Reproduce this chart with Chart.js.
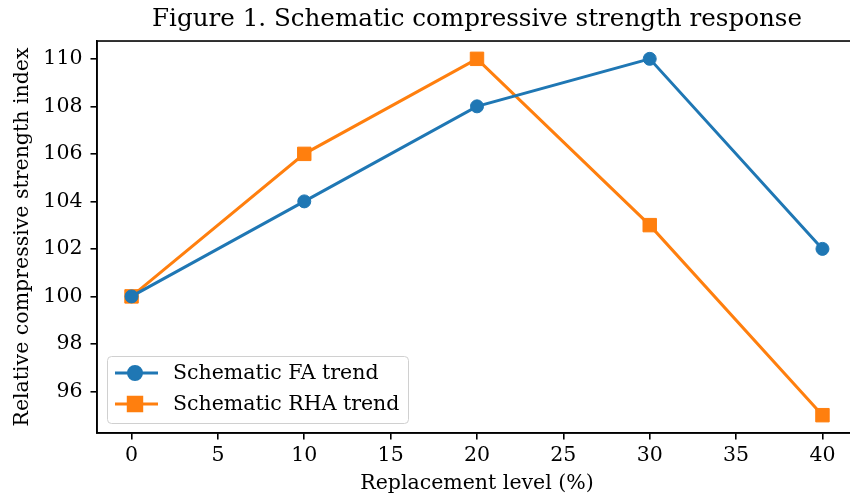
<!DOCTYPE html>
<html>
<head>
<meta charset="utf-8">
<script src="https://cdn.jsdelivr.net/npm/chart.js@4"></script>
<style>
  html, body { margin: 0; padding: 0; overflow: hidden; background: #fff; }
  #chart { display: block; }
</style>
</head>
<body>
<canvas id="chart" width="850" height="499" style="width:850px;height:499px"></canvas>
<script>
// Replacement levels (%) and the two schematic trends
const levels = [0, 10, 20, 30, 40];
const faTrend = [100, 104, 108, 110, 102];
const rhaTrend = [100, 106, 110, 103, 95];
const xTicks = [0, 5, 10, 15, 20, 25, 30, 35, 40];
const yTicks = [96, 98, 100, 102, 104, 106, 108, 110];

const FONT = '"DejaVu Serif", serif';
const BLUE = '#1f77b4';
const ORANGE = '#ff7f0e';

// the original figure is cut off on the right: push the plot area a few px past the canvas edge
const widen = {
  id: 'widen',
  afterLayout(chart) {
    const extra = 7;
    const a = chart.chartArea;
    a.right += extra;
    a.width += extra;
    const x = chart.scales.x;
    x.right += extra;
    x.width += extra;
    x.configure();
    if (chart.titleBlock) {
      chart.titleBlock.right += extra;
      chart.titleBlock.width += extra;
    }
  }
};

// box around the plot (matplotlib spines)
const frame = {
  id: 'frame',
  afterDraw(chart) {
    const { ctx, chartArea: a } = chart;
    ctx.save();
    ctx.strokeStyle = '#000';
    ctx.lineWidth = 1.6;
    ctx.strokeRect(a.left, a.top, a.right - a.left, a.bottom - a.top);
    ctx.restore();
  }
};

// legend drawn inside the lower left corner
const innerLegend = {
  id: 'innerLegend',
  afterDatasetsDraw(chart) {
    const { ctx, chartArea: a } = chart;
    const x0 = a.left + 10, y0 = a.bottom - 77, w = 301, h = 67;
    ctx.save();
    ctx.fillStyle = 'rgba(255,255,255,0.8)';
    ctx.strokeStyle = '#d0d0d0';
    ctx.lineWidth = 1;
    ctx.beginPath();
    ctx.roundRect(x0 + 0.5, y0 + 0.5, w, h, 4);
    ctx.fill();
    ctx.stroke();
    ctx.font = '20.5px ' + FONT;
    ctx.textBaseline = 'middle';
    chart.data.datasets.forEach((ds, i) => {
      const y = y0 + 17 + i * 31;
      ctx.strokeStyle = ds.borderColor;
      ctx.lineWidth = ds.borderWidth;
      ctx.beginPath();
      ctx.moveTo(x0 + 8, y);
      ctx.lineTo(x0 + 51, y);
      ctx.stroke();
      Chart.helpers.drawPoint(ctx, {
        pointStyle: ds.pointStyle, radius: ds.pointRadius, rotation: 0, borderWidth: 1
      }, x0 + 28, y);
      ctx.fillStyle = ds.backgroundColor;
      ctx.fill();
      ctx.fillStyle = '#000';
      ctx.fillText(ds.label, x0 + 66, y + 1);
    });
    ctx.restore();
  }
};

new Chart(document.getElementById('chart').getContext('2d'), {
  type: 'line',
  data: {
    datasets: [{
      label: 'Schematic FA trend',
      data: levels.map((x, i) => ({ x: x, y: faTrend[i] })),
      borderColor: BLUE,
      backgroundColor: BLUE,
      borderWidth: 3,
      pointStyle: 'circle',
      pointRadius: 6.5,
      pointBorderWidth: 1,
      tension: 0
    }, {
      label: 'Schematic RHA trend',
      data: levels.map((x, i) => ({ x: x, y: rhaTrend[i] })),
      borderColor: ORANGE,
      backgroundColor: ORANGE,
      borderWidth: 3,
      pointStyle: 'rect',
      pointRadius: 9.5,
      pointBorderWidth: 1,
      tension: 0
    }]
  },
  options: {
    responsive: false,
    animation: false,
    layout: { autoPadding: false, padding: 0 },
    plugins: {
      legend: { display: false },
      tooltip: { enabled: false },
      title: {
        display: true,
        fullSize: false,
        text: 'Figure 1. Schematic compressive strength response',
        color: '#000',
        font: { family: FONT, size: 24.6, weight: 'normal' },
        padding: { top: 5.25, bottom: 6.25 }
      }
    },
    scales: {
      x: {
        type: 'linear',
        min: -2,
        max: 42,
        afterBuildTicks: s => { s.ticks = xTicks.map(v => ({ value: v })); },
        afterFit: s => { s.height = 66; s.paddingLeft = 0; s.paddingRight = 0; },
        grid: { drawOnChartArea: false, drawTicks: true, tickLength: 6.5, color: '#000', lineWidth: 1.6 },
        border: { display: true, color: '#000', width: 1.6 },
        ticks: { color: '#000', padding: 4, maxRotation: 0, font: { family: FONT, size: 20.5 } },
        title: {
          display: true,
          text: 'Replacement level (%)',
          color: '#000',
          font: { family: FONT, size: 20.5 },
          padding: { top: 0, bottom: 2.7 }
        }
      },
      y: {
        min: 94.25,
        max: 110.75,
        afterBuildTicks: s => { s.ticks = yTicks.map(v => ({ value: v })); },
        afterFit: s => { s.width = 97; s.paddingTop = 0; s.paddingBottom = 0; },
        grid: { drawOnChartArea: false, drawTicks: true, tickLength: 6.5, color: '#000', lineWidth: 1.6 },
        border: { display: true, color: '#000', width: 1.6 },
        ticks: { color: '#000', padding: 8, font: { family: FONT, size: 20.5 } },
        title: {
          display: true,
          text: 'Relative compressive strength index',
          color: '#000',
          font: { family: FONT, size: 20.5 },
          padding: { top: 10.7, bottom: 0 }
        }
      }
    }
  },
  plugins: [widen, frame, innerLegend]
});
</script>
</body>
</html>
